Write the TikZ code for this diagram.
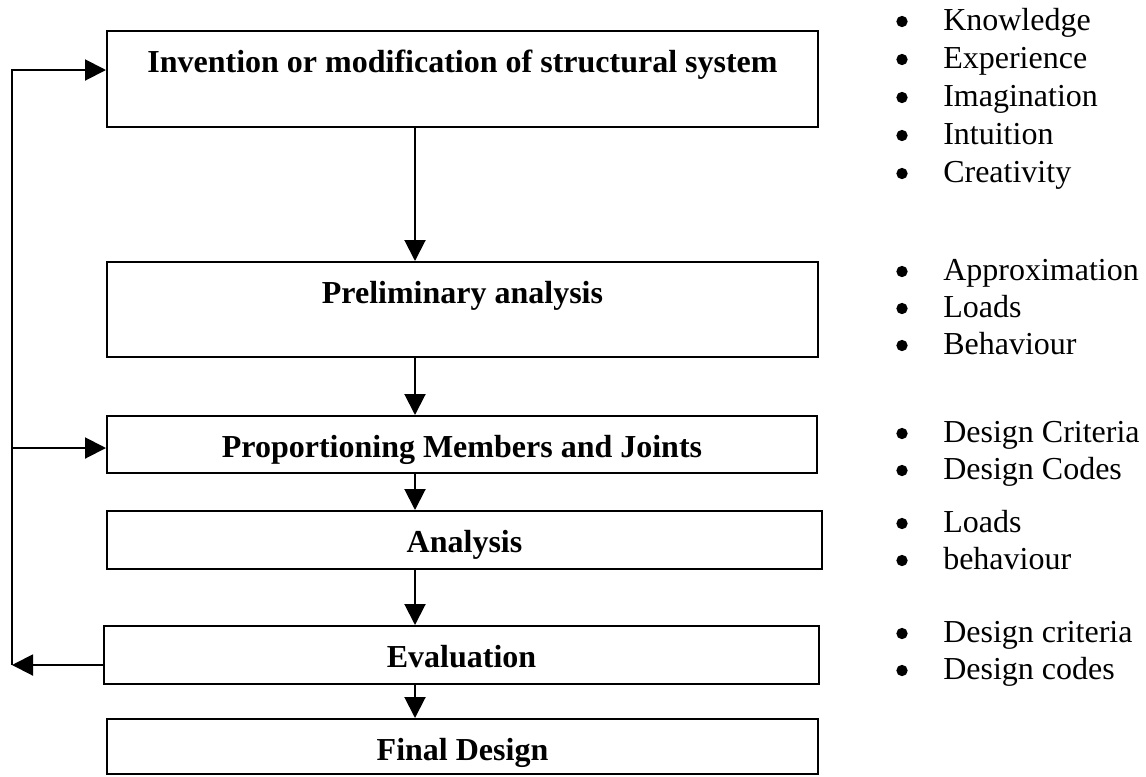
\documentclass[tikz,border=0pt]{standalone}
\usepackage{fontspec}
\setmainfont{Liberation Serif}
\usetikzlibrary{arrows.meta,fit}
\begin{document}
\begin{tikzpicture}[x=0.75pt,y=-0.75pt,
  box/.style={draw, line width=1.5pt, inner sep=0pt},
  ttl/.style={font=\fontsize{24}{27.6}\selectfont\bfseries, anchor=base, inner sep=0pt},
  item/.style={font=\fontsize{24}{27.6}\selectfont, anchor=base west, inner sep=0pt},
  bul/.style={circle, fill, minimum size=8.5pt, inner sep=0pt},
  arr/.style={line width=1.5pt, -{Triangle[length=15.75pt,width=15.75pt]}},
  ln/.style={line width=1.5pt}]
\useasboundingbox (0,0) rectangle (1146,776);
% boxes
\node[box, fit={(107,31) (818,127)}] (b1) {};
\node[box, fit={(107,262) (818,357)}] (b2) {};
\node[box, fit={(107,416) (817,473)}] (b3) {};
\node[box, fit={(107,511) (822,569)}] (b4) {};
\node[box, fit={(104,626) (819,684)}] (b5) {};
\node[box, fit={(107,719) (818,774)}] (b6) {};
% titles
\node[ttl] (t1) at (462.5,72.5) {Invention or modification of structural system};
\node[ttl] (t2) at (462.5,303.5) {Preliminary analysis};
\node[ttl] (t3) at (462,457.5) {Proportioning Members and Joints};
\node[ttl] (t4) at (464.5,552.5) {Analysis};
\node[ttl] (t5) at (461.5,667.5) {Evaluation};
\node[ttl] (t6) at (462.5,760.5) {Final Design};
% down arrows
\coordinate (ax) at (415,0);
\draw[arr] (b1.south -| ax) -- (b2.north -| ax);
\draw[arr] (b2.south -| ax) -- (b3.north -| ax);
\draw[arr] (b3.south -| ax) -- (b4.north -| ax);
\draw[arr] (b4.south -| ax) -- (b5.north -| ax);
\draw[arr] (b5.south -| ax) -- (b6.north -| ax);
% feedback loop
\coordinate (c1) at (12,70);
\coordinate (c3) at (12,448);
\coordinate (c5) at (12,665);
\draw[arr] (b5.west |- c5) -- (c5);
\draw[arr] (c5) -- (c1) -- (b1.west |- c1);
\draw[arr] (c3) -- (b3.west |- c3);
% bullet lists
\foreach \y/\t [count=\i] in {20/Knowledge,58/Experience,96/Imagination,134/Intuition,172/Creativity,
  270/Approximation,307/Loads,344/Behaviour,
  432/Design Criteria,469/Design Codes,
  522/Loads,559/behaviour,
  632/Design criteria,669/Design codes}{
  \node[bul] (d\i) at (902,\y+1.5) {};
  \node[item] (l\i) at (943,\y+10.5) {\t};
}
\end{tikzpicture}
\end{document}
